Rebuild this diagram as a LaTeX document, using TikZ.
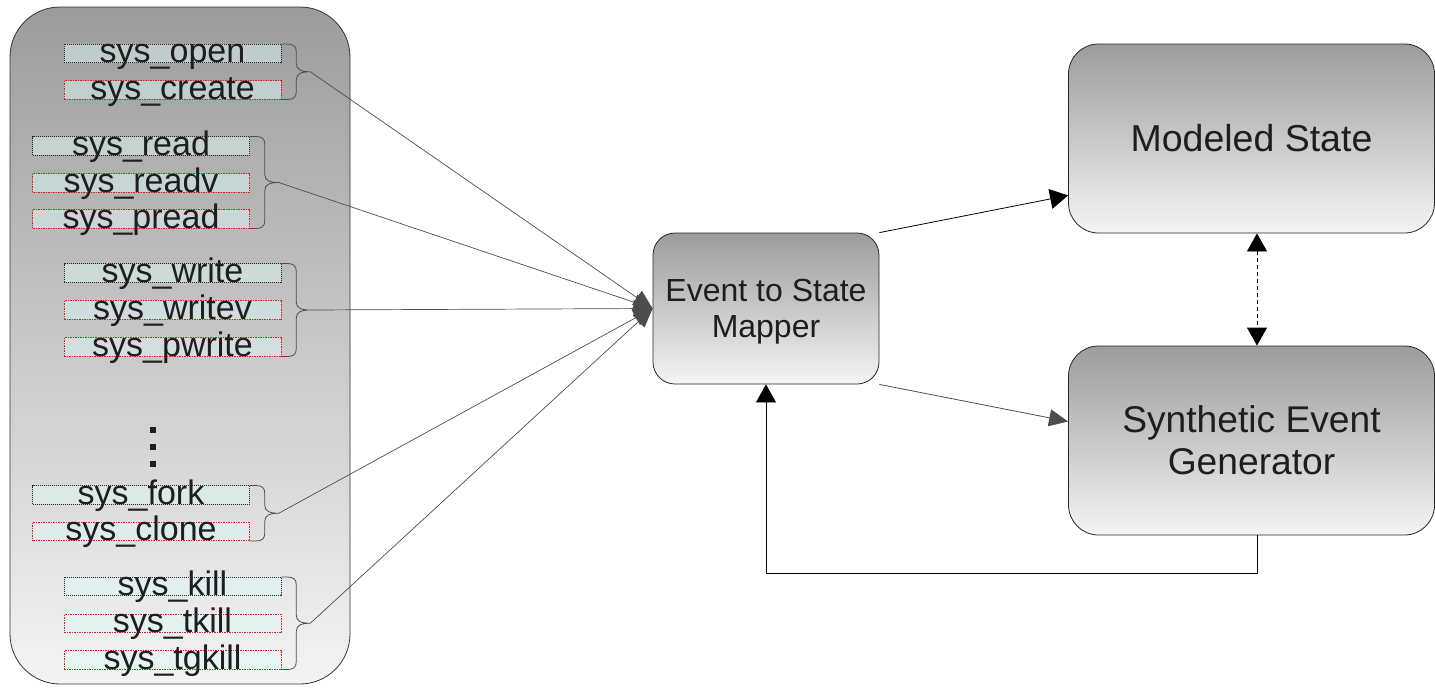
\documentclass[tikz,border=0pt]{standalone}
\usepackage{fontspec}
\setmainfont{Liberation Sans}
\usetikzlibrary{arrows.meta,calc}
\definecolor{boxtop}{HTML}{9C9C9C}
\definecolor{boxbot}{HTML}{F4F4F4}
\definecolor{ink}{HTML}{1E1E1E}
\definecolor{wire}{HTML}{4D4D4D}
\definecolor{tagfill}{HTML}{DDF7F7}
\definecolor{tagred}{HTML}{D42020}
\begin{document}
\begin{tikzpicture}[x=1pt,y=-1pt,
  panel/.style={draw=black!80, line width=0.8pt, top color=boxtop, bottom color=boxbot,
    rounded corners=50pt, inner sep=0pt},
  stage/.style={draw=black!85, line width=0.8pt, top color=boxtop, bottom color=boxbot,
    inner sep=0pt, text=ink, align=center},
  stagetext/.style={inner sep=0pt, text=ink, align=center},
  tag/.style={fill=tagfill, fill opacity=0.5, text opacity=1, text=ink, line width=0.6pt,
    inner sep=0pt, minimum width=217pt, text height=18.5pt, text depth=0pt,
    font=\fontsize{34}{37}\selectfont},
  firsttag/.style={tag, draw=black!85, dash pattern=on 1pt off 1pt},
  othertag/.style={tag, draw=tagred, dash pattern=on 2pt off 1pt on 1pt off 1pt},
  bracestyle/.style={draw=wire, line width=0.8pt},
  feed/.style={draw=wire, line width=0.7pt, -{Triangle[length=19pt,width=17pt]}, wire},
  flow/.style={draw=black, line width=0.8pt, -{Triangle[length=18pt,width=20pt]}},
  dotsq/.style={fill=ink, inner sep=0pt, minimum size=6.5pt}
]
\useasboundingbox (0,0) rectangle (1435,688);

% system call panel
\node[panel, minimum width=340pt, minimum height=677pt] (calls) at (180,345.5) {};

% system call tags
\node[firsttag] (open)   at (172.5,53.5) {sys\_open};
\node[othertag] (create) at (172.5,90)   {sys\_create};

\node[firsttag] (read)   at (141,146) {sys\_read};
\node[othertag] (readv)  at (141,183) {sys\_readv};
\node[othertag] (pread)  at (141,219) {sys\_pread};

\node[firsttag] (write)  at (172.5,273) {sys\_write};
\node[othertag] (writev) at (172.5,310) {sys\_writev};
\node[othertag] (pwrite) at (172.5,347) {sys\_pwrite};

\node[dotsq] (d1) at (153,430) {};
\node[dotsq] (d2) at (153,447) {};
\node[dotsq] (d3) at (153,464) {};

\node[firsttag] (fork)   at (141,495)   {sys\_fork};
\node[othertag] (clone)  at (141,531.5) {sys\_clone};

\node[firsttag] (kill)   at (172.5,586.5) {sys\_kill};
\node[othertag] (tkill)  at (172.5,623.5) {sys\_tkill};
\node[othertag] (tgkill) at (172.5,660)   {sys\_tgkill};

% right-hand curly brace from the top of #1 to the bottom of #2, tip named #3
\newcommand\callbrace[3]{%
  \coordinate (#3) at ($(#1.north east)!0.5!(#2.south east)+(29,0)$);
  \draw[bracestyle] let \p1=(#1.north east), \p2=(#2.south east), \p3=(#3) in
    (\p1) -- (\x1+5pt,\y1)
    .. controls (\x1+12pt,\y1) and (\x1+15pt,\y1-2pt) .. (\x1+15pt,\y1-8pt)
    -- (\x1+15pt,\y3+8pt)
    .. controls (\x1+15pt,\y3+2pt) and (\x1+20pt,\y3) .. (\p3)
    .. controls (\x1+20pt,\y3) and (\x1+15pt,\y3-2pt) .. (\x1+15pt,\y3-8pt)
    -- (\x1+15pt,\y2+8pt)
    .. controls (\x1+15pt,\y2+2pt) and (\x1+12pt,\y2) .. (\x1+5pt,\y2) -- (\p2);
}
\callbrace{open}{create}{b1}
\callbrace{read}{pread}{b2}
\callbrace{write}{pwrite}{b3}
\callbrace{fork}{clone}{b4}
\callbrace{kill}{tgkill}{b5}

% processing stages
\node[stage, minimum width=226pt, minimum height=151pt, rounded corners=22pt] (mapper) at (766,308.5) {};
\node[stagetext, font=\fontsize{32}{36}\selectfont] (mapperlabel) at (766,312) {Event to State\\Mapper};
\node[stage, minimum width=366pt, minimum height=189pt, rounded corners=30pt,
      font=\fontsize{37.5}{42}\selectfont] (state) at (1251.5,138.5) {Modeled State};
\node[stage, minimum width=366pt, minimum height=189pt, rounded corners=30pt,
      font=\fontsize{37.2}{42}\selectfont] (gen) at (1251.5,440.5) {Synthetic Event\\Generator};

% system call groups feed the mapper
\foreach \b in {b1,b2,b3,b4,b5}
  \draw[feed] (\b) -- (mapper.west);

% mapper outputs
\draw[flow] (mapper.north east) -- ($(state.north west)!0.8!(state.south west)$);
\draw[feed, line width=0.8pt] (mapper.south east) -- ($(gen.north west)!0.4!(gen.south west)$);

% state <-> generator
\draw[flow, {Triangle[length=18pt,width=20pt]}-{Triangle[length=18pt,width=20pt]},
      dash pattern=on 4pt off 3pt] ($(state.south)+(5.5,0)$) -- ($(gen.north)+(5.5,0)$);

% feedback loop
\draw[flow] ($(gen.south)+(5.5,0)$) -- ++(0,38) -| (mapper.south);
\end{tikzpicture}
\end{document}
